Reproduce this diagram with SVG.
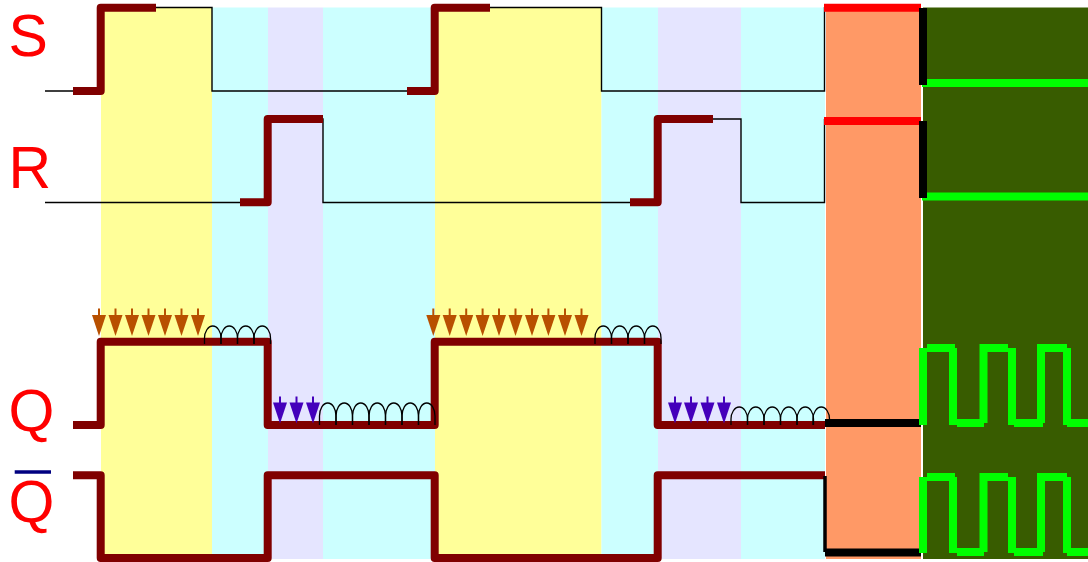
<svg xmlns="http://www.w3.org/2000/svg" width="1088" height="562" viewBox="0 0 1088 562">
<defs>
<style>
.lbl{font-family:"Liberation Sans",Arial,sans-serif;font-size:59px;fill:#f00}
.thin{fill:none;stroke:#000;stroke-width:1.4}
.thick{fill:none;stroke:#800000;stroke-width:8;stroke-linejoin:round}
.blk{fill:none;stroke:#000;stroke-width:8}
.red{fill:none;stroke:#f00;stroke-width:8}
.grn{fill:none;stroke:#0f0;stroke-width:8}
.loop{fill:none;stroke:#000;stroke-width:1.3}
</style>
<g id="ao"><path d="M0 -27.500V-12" stroke="#b85000" stroke-width="2" fill="none"/><path d="M-7 -21H7L0 0Z" fill="#b85000"/></g>
<g id="ap"><path d="M0 -27V-12" stroke="#4400bb" stroke-width="2" fill="none"/><path d="M-7 -21H7L0 0Z" fill="#4400bb"/></g>
<path id="l1" d="M0 0V-6C0 -12 3.500 -18 8.250 -18C13 -18 16.500 -12 16.500 -6V0" class="loop"/>
<path id="l2" d="M0 0V-9C0 -16 3.500 -22 8.250 -22C13 -22 16.500 -16 16.500 -9V0" class="loop"/>
</defs>
<g id="bands">
<rect x="101" y="7.500" width="111" height="551.500" fill="#ffff99"/>
<rect x="212" y="7.500" width="56" height="551.500" fill="#ccffff"/>
<rect x="268" y="7.500" width="55" height="551.500" fill="#e5e5ff"/>
<rect x="323" y="7.500" width="112" height="551.500" fill="#ccffff"/>
<rect x="435" y="7.500" width="166.500" height="551.500" fill="#ffff99"/>
<rect x="601.500" y="7.500" width="56.500" height="551.500" fill="#ccffff"/>
<rect x="658" y="7.500" width="83" height="551.500" fill="#e5e5ff"/>
<rect x="741" y="7.500" width="84" height="551.500" fill="#ccffff"/>
<rect x="826" y="7.500" width="95" height="551.500" fill="#ff9966"/>
<rect x="923" y="7.500" width="165" height="551.500" fill="#385c00"/>
</g>
<g id="labels">
<text class="lbl" x="8.500" y="56">S</text>
<text class="lbl" x="8.500" y="188">R</text>
<text class="lbl" x="8.500" y="430.500">Q</text>
<text class="lbl" x="8.500" y="521.500">Q</text>
<path d="M14.700 472H51" stroke="#000080" stroke-width="3.500" fill="none"/>
</g>
<g id="connectors">
<path class="thin" d="M45 91H101V7.500H212V91H435V7.500H601.500V91H824.500V7"/>
<path class="thin" d="M45 202.500H268V119H323V202.500H658V119H741V202.500H824.500V119"/>
<path class="thick" d="M73 91H100.700V7.700H156"/>
<path class="thick" d="M407 91H434.700V7.700H490"/>
<path class="thick" d="M240 202.300H267.700V119H323"/>
<path class="thick" d="M630 202.300H657.700V119H713"/>
<path class="thick" d="M73 425H100.700V341.700H267.700V425H434.700V341.700H657.700V425H825"/>
<path class="thick" d="M73 475.300H100.700V558H267.700V475.300H434.700V558H657.700V475.300H825"/>
<path class="red" d="M824 7.800H921M824 121H921"/>
<path class="blk" d="M825 423H921"/>
<path class="blk" d="M825 552.500H921"/>
<path d="M825 476V552" fill="none" stroke="#000" stroke-width="3.500"/>
<path class="grn" d="M922 83H1088M922 196.500H1088"/>
<path class="blk" d="M923 8V85M923 121V198"/>
<path class="grn" d="M923 348V425M927 348H955M953 348V425M957 423H984M983.500 344V423M980 348H1008M1012 348V425M1014 423H1043M1041 344V423M1039 348H1067M1067 348V425M1067 423H1088"/>
<path class="grn" d="M923 477V553M927 477H955M953 477V553M957 552H984M983.500 473V552M980 477H1008M1012 477V553M1014 552H1043M1041 473V552M1039 477H1067M1067 477V553M1067 552H1088"/>
</g>
<g id="arrows">
<use href="#ao" x="99" y="336"/><use href="#ao" x="115.500" y="336"/><use href="#ao" x="132" y="336"/><use href="#ao" x="148.500" y="336"/><use href="#ao" x="165" y="336"/><use href="#ao" x="181.500" y="336"/><use href="#ao" x="198" y="336"/>
<use href="#ao" x="433.300" y="336"/><use href="#ao" x="449.700" y="336"/><use href="#ao" x="466.200" y="336"/><use href="#ao" x="482.600" y="336"/><use href="#ao" x="499" y="336"/><use href="#ao" x="515.500" y="336"/><use href="#ao" x="532" y="336"/><use href="#ao" x="548.400" y="336"/><use href="#ao" x="565" y="336"/><use href="#ao" x="581.500" y="336"/>
<use href="#ap" x="280" y="423.500"/><use href="#ap" x="296.500" y="423.500"/><use href="#ap" x="313" y="423.500"/>
<use href="#ap" x="675" y="423.500"/><use href="#ap" x="691" y="423.500"/><use href="#ap" x="707.500" y="423.500"/><use href="#ap" x="724" y="423.500"/>
</g>
<g id="loops">
<use href="#l1" x="204.500" y="344"/><use href="#l1" x="221" y="344"/><use href="#l1" x="237.500" y="344"/><use href="#l1" x="254" y="344"/>
<use href="#l1" x="595" y="344"/><use href="#l1" x="611.500" y="344"/><use href="#l1" x="628" y="344"/><use href="#l1" x="644.500" y="344"/>
<use href="#l2" x="319.500" y="425"/><use href="#l2" x="336" y="425"/><use href="#l2" x="352.500" y="425"/><use href="#l2" x="369" y="425"/><use href="#l2" x="385.500" y="425"/><use href="#l2" x="402" y="425"/><use href="#l2" x="418.500" y="425"/>
<use href="#l1" x="731" y="425"/><use href="#l1" x="747.500" y="425"/><use href="#l1" x="764" y="425"/><use href="#l1" x="780.500" y="425"/><use href="#l1" x="797" y="425"/><use href="#l1" x="813" y="425"/>
</g>
</svg>
